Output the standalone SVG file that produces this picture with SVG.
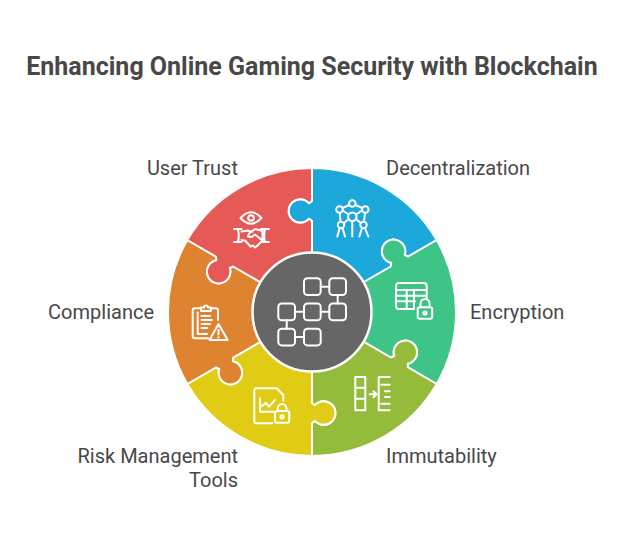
<svg xmlns="http://www.w3.org/2000/svg" width="624" height="540" viewBox="0 0 624 540">
<style>
.t{font-family:Roboto,"Liberation Sans",sans-serif;fill:#484848}
.l{font-size:20px}
.seg{stroke:#fff;stroke-width:2;stroke-linejoin:round}
.i{fill:none;stroke:#fff;stroke-width:2;stroke-linecap:round;stroke-linejoin:round}
</style>
<defs>
<path id="piece" d="M312 254V221L309 218.8A11.7 11.7 0 1 1 309 203.2L312 201V168A144 144 0 0 1 436.7 240L408.1 256.5L404.7 255A11.7 11.7 0 1 0 391.2 262.8L390.8 266.5L362.2 283A58 58 0 0 0 312 254Z"/>
</defs>
<rect width="624" height="540" fill="#fff"/>
<text class="t" x="312" y="75" text-anchor="middle" font-size="25" font-weight="700">Enhancing Online Gaming Security with Blockchain</text>

<g id="connectors"></g>

<g id="node-decentralization">
<use href="#piece" class="seg" fill="#1DA8DB"/>
<g class="i"><circle cx="352.3" cy="203.5" r="3.3"/><circle cx="339.5" cy="209.5" r="3.3"/><circle cx="365.3" cy="209.5" r="3.3"/><circle cx="352.3" cy="216.7" r="4.2"/><circle cx="341" cy="225" r="3.2"/><circle cx="363.5" cy="225" r="3.2"/><path d="M349.3 205L342.5 208M355.3 205L362.3 208M342.7 210.5L348.5 214.5M362 210.5L356 214.5M348.8 219L344 223M355.8 219L360.8 223M339.7 228L337.3 236.5M342.5 228L345 236.5M352.3 221V236.5M362 228L359.3 236.5M365 228L368.3 236.5M339.8 212.8L340.5 221.8M365 212.8L364 221.8"/></g>
<text class="t l" x="386" y="175">Decentralization</text>
</g>

<g id="node-encryption">
<use href="#piece" class="seg" fill="#3EC486" transform="rotate(60 312 312)"/>
<g class="i"><path d="M414 309H399A3 3 0 0 1 396 306V286A3 3 0 0 1 399 283H423.7A3 3 0 0 1 426.7 286V298M396 290H426.7M396 295.7H426.7M396 301.3H415M406.7 290V309M414 290V309"/><rect x="417.7" y="307.3" width="14.5" height="11.4" rx="2"/><path d="M420.5 307.3V303.5A4.5 4.5 0 0 1 429.5 303.5V307.3"/><circle cx="425" cy="313" r="1.6"/></g>
<text class="t l" x="470" y="319">Encryption</text>
</g>

<g id="node-immutability">
<use href="#piece" class="seg" fill="#95BB3B" transform="rotate(120 312 312)"/>
<g class="i"><rect x="355.3" y="377" width="10" height="33.3"/><path d="M355.3 387.7H365.3M355.3 398.7H365.3M369.7 394.3H376.3M373.5 391.3L376.5 394.3L373.5 397.3M389.7 377H378.7V410.3H389.7M381.3 384.7H389.7M385 391.3H389.7M385 397H389.7M381.3 403.7H389.7"/></g>
<text class="t l" x="386" y="463">Immutability</text>
</g>

<g id="node-risk-management">
<use href="#piece" class="seg" fill="#E0CB15" transform="rotate(180 312 312)"/>
<g class="i"><path d="M272.5 423.3H256.3A2 2 0 0 1 254.3 421.3V390.3A2 2 0 0 1 256.3 388.3H276.7L283.3 395V400.7M260 398.3V411.7H273.3M261 406.7L266 402.7L269 406.7L275 400"/><rect x="275" y="411" width="14.3" height="11.7" rx="2"/><path d="M277.7 411V408.5A4.4 4.4 0 0 1 286.5 408.5V411"/><circle cx="282" cy="416.8" r="1.6"/></g>
<text class="t l" text-anchor="end"><tspan x="238" y="463">Risk Management</tspan><tspan x="238" y="487">Tools</tspan></text>
</g>

<g id="node-compliance">
<use href="#piece" class="seg" fill="#DE8431" transform="rotate(240 312 312)"/>
<g class="i"><path d="M201 308.3H194.7A2 2 0 0 0 192.7 310.3V336.3A2 2 0 0 0 194.7 338.3H208M212 308.3H216A2 2 0 0 1 218 310.3V320M197.7 312.5V334H207M201 311V307.5H204A2 2 0 0 1 208 307.5H211V311H201ZM201.5 316H210M201.5 320H212M201.5 324H210M201.5 328H207M218.5 324L209.5 340H227.7ZM218.5 330V334.5M218.5 337.3V337.4"/></g>
<text class="t l" x="154" y="319" text-anchor="end">Compliance</text>
</g>

<g id="node-user-trust">
<use href="#piece" class="seg" fill="#E55A57" transform="rotate(300 312 312)"/>
<g class="i"><path d="M240.5 218Q251 206.5 261.5 218Q251 229.5 240.5 218Z"/><circle cx="251" cy="218" r="2.8"/><path d="M234 229H241.5M234 242H241.5M238 229Q239.5 235.5 238 242M261 229H269M261 242H269M265 229Q263.5 235.5 265 242M241.5 231.5L248 230.5L252 232M241.5 240L245 240.5L250.5 246.5L253 245.5L255 247.5L257 246L262.5 240.5V231L255 229L249 233.5L248 236.5L251.5 237L255 234.5L262.5 240.5"/></g>
<text class="t l" x="238" y="175" text-anchor="end">User Trust</text>
</g>

<g id="node-center">
<circle cx="312" cy="312" r="59.5" fill="#666" stroke="#fff" stroke-width="2.5"/>
<g class="i">
<rect x="304" y="278.3" width="16.7" height="16.7" rx="3.5"/><rect x="329.3" y="278.3" width="16.7" height="16.7" rx="3.5"/>
<rect x="278.3" y="303.5" width="16.7" height="16.7" rx="3.5"/><rect x="304" y="303.5" width="16.7" height="16.7" rx="3.5"/><rect x="329.3" y="303.5" width="16.7" height="16.7" rx="3.5"/>
<rect x="278.3" y="328.7" width="16.7" height="16.7" rx="3.5"/><rect x="304" y="328.7" width="16.7" height="16.7" rx="3.5"/>
<path d="M320.7 286.7H329.3M295 311.8H304M320.7 311.8H329.3M295 337H304M337.7 295V303.5M286.7 320.2V328.7"/>
</g>
</g>
</svg>
